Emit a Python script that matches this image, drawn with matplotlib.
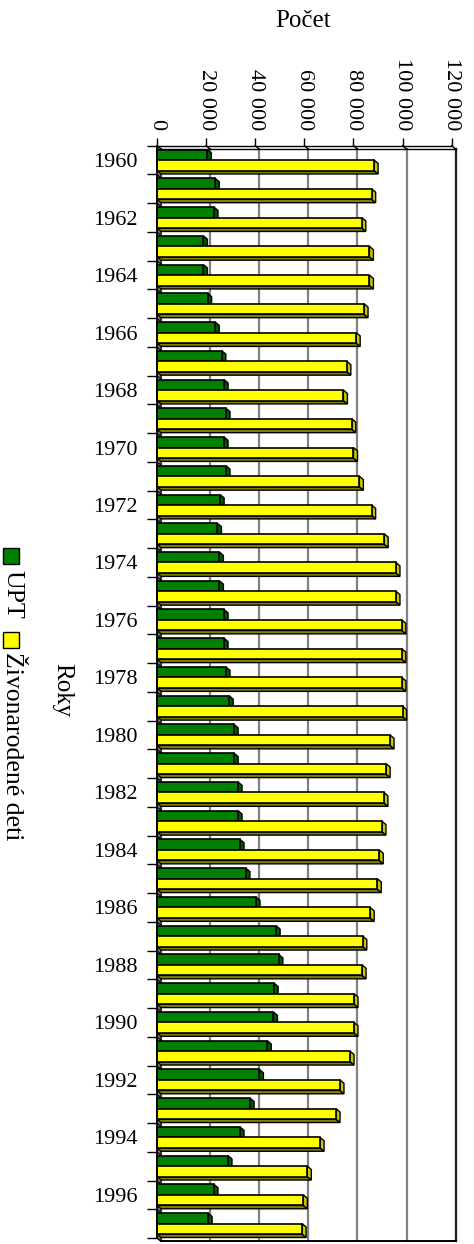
"""Rotated 3D-style bar chart: UPT vs. live births, 1960-1997."""

import matplotlib
matplotlib.use("Agg")
import matplotlib.pyplot as plt
from matplotlib.patches import Polygon, Rectangle

plt.rcParams["font.family"] = ["Liberation Serif", "DejaVu Serif"]

years = list(range(1960, 1998))
upt = [20500, 23700, 23200, 18900, 18900, 20600, 23700, 26400, 27300, 28100,
       27300, 28100, 25700, 24600, 25400, 25400, 27300, 27300, 28100, 29400,
       31400, 31400, 33000, 33000, 33800, 36200, 40300, 48500, 49600, 47700,
       47400, 44900, 41700, 37900, 33800, 28900, 23200, 20800]
births = [88400, 87400, 83400, 86500, 86500, 84300, 81100, 77300, 75900, 79300,
          80000, 82400, 87400, 92500, 97300, 97300, 99700, 99700, 99700, 100000,
          94900, 93300, 92400, 91600, 90500, 89700, 86800, 83800, 83500, 80200,
          80200, 78600, 74500, 72900, 66400, 61200, 59600, 59100]
value_ticks = [0, 20000, 40000, 60000, 80000, 100000, 120000]
value_labels = ["0", "20 000", "40 000", "60 000", "80 000", "100 000", "120 000"]
series_names = ["UPT", "Živonarodené deti"]

W, H = 474, 1244
fig = plt.figure(figsize=(W / 100, H / 100), dpi=100)

# front plane of the plot in pixels
x0, x1 = 157, 451.7
y0, y1 = 145.7, 1238
ax = fig.add_axes([x0 / W, 1 - y1 / H, (x1 - x0) / W, (y1 - y0) / H])
n = len(years)
ax.set_xlim(0, 120000)
ax.set_ylim(n - 0.5, -0.5)
ax.patch.set_visible(False)

# depth offset of the 3D look, in data units
dx = 4.0 * 120000 / (x1 - x0)
dy = 3.4 / ((y1 - y0) / n)

kw = dict(clip_on=False)
# back wall gridlines and frame
for v in value_ticks:
    ax.plot([v + dx, v + dx], [-0.5 + dy, n - 0.5 + dy], color="#808080", lw=1.6, zorder=0, **kw)
    ax.plot([v, v + dx], [-0.5, -0.5 + dy], color="black", lw=1, zorder=1, **kw)
ax.plot([120000 + dx] * 2, [-0.5 + dy, n - 0.5 + dy], color="#202020", lw=1.6, zorder=1, **kw)
ax.plot([dx, 120000 + dx], [-0.5 + dy, -0.5 + dy], color="black", lw=1, zorder=1, **kw)
ax.plot([dx, 120000 + dx], [n - 0.5 + dy, n - 0.5 + dy], color="black", lw=1.4, zorder=1, **kw)

# floor strip on the left
ax.add_patch(Polygon([(0, -0.5), (0, n - 0.5), (dx, n - 0.5 + dy), (dx, -0.5 + dy)],
                     closed=True, facecolor="#808080", edgecolor="black", lw=0.8,
                     zorder=1, **kw))
for i in range(n + 1):
    ax.plot([0, dx], [i - 0.5, i - 0.5 + dy], color="black", lw=0.8, zorder=1, **kw)

h = 0.365
colors = [("#008000", "#005a00", "#004000"), ("#ffff00", "#c8c800", "#808000")]
for s, vals in enumerate([upt, births]):
    front, side, top = colors[s]
    centers = [i + (s - 0.5) * h for i in range(n)]
    for c, v in zip(centers, vals):
        yt, yb = c - h / 2, c + h / 2
        ax.add_patch(Polygon([(0, yb), (v, yb), (v + dx, yb + dy), (dx, yb + dy)],
                             closed=True, facecolor=top, edgecolor="black", lw=1,
                             zorder=2 + 2 * s, **kw))
        ax.add_patch(Polygon([(v, yt), (v + dx, yt + dy), (v + dx, yb + dy), (v, yb)],
                             closed=True, facecolor=side, edgecolor="black", lw=1,
                             zorder=2 + 2 * s, **kw))
    ax.barh(centers, vals, height=h, color=front, edgecolor="black", lw=1.2,
            zorder=3 + 2 * s, **kw)

# axes, ticks and labels
for side in ["right", "bottom"]:
    ax.spines[side].set_visible(False)
ax.spines["top"].set_linewidth(1)
ax.spines["left"].set_linewidth(1.2)
ax.spines["left"].set_zorder(10)
ax.xaxis.tick_top()
ax.set_xticks(value_ticks)
ax.set_xticklabels(value_labels, rotation=270, fontsize=16)
ax.tick_params(axis="x", length=6, width=1, pad=5)

ax.set_yticks([i - 0.5 for i in range(n + 1)])
ax.set_yticklabels([])
ax.set_yticks(list(range(0, n, 2)), minor=True)
ax.set_yticklabels([str(y) for y in years[::2]], minor=True, fontsize=16)
ax.tick_params(axis="y", which="major", length=7, width=1)
ax.tick_params(axis="y", which="minor", length=0, pad=14)

fig.text(303 / W, 1 - 21 / H, "Počet", ha="center", va="center", fontsize=18)
fig.text(62 / W, 1 - 690 / H, "Roky", ha="center", va="center", rotation=270, fontsize=18)

# legend drawn by hand, rotated like the rest of the chart
for (sq_top, txt_top), name, (front, _, _) in zip([(548, 570), (632, 652)], series_names, colors):
    fig.patches.append(Rectangle((3 / W, 1 - (sq_top + 16) / H), 16 / W, 16 / H,
                                 transform=fig.transFigure, facecolor=front,
                                 edgecolor="black", lw=1))
    fig.text(12 / W, 1 - txt_top / H, name, ha="center", va="top", rotation=270, fontsize=18.5)

fig.savefig("out.png", dpi=100)
